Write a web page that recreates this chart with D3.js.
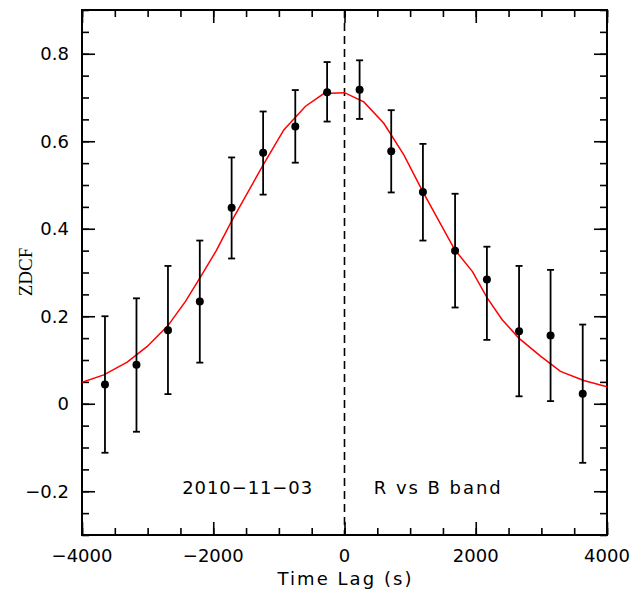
<!DOCTYPE html>
<html>
<head>
<meta charset="utf-8">
<script src="https://cdn.jsdelivr.net/npm/d3@7"></script>
<style>
    body { margin: 0; background: #fff; }
    svg text { font-family: "DejaVu Sans", sans-serif; fill: #000; }
</style>
</head>
<body>
<div id="chart"></div>
<script>
// ZDCF points (lag in s, value, error down, error up)
const lags = [-3650, -3170, -2690, -2205, -1720, -1240, -750, -265,
    230, 712, 1195, 1685, 2170, 2660, 3140, 3630];
const zdcf = [0.044, 0.089, 0.168, 0.234, 0.448, 0.574, 0.634, 0.712,
    0.718, 0.577, 0.484, 0.350, 0.284, 0.166, 0.156, 0.023];
const errLow = [0.156, 0.153, 0.146, 0.140, 0.116, 0.096, 0.083, 0.067,
    0.067, 0.094, 0.111, 0.130, 0.138, 0.149, 0.150, 0.158];
const errHigh = [0.156, 0.152, 0.147, 0.139, 0.115, 0.094, 0.083, 0.069,
    0.067, 0.094, 0.110, 0.130, 0.075, 0.149, 0.150, 0.158];

// red model curve
const fitLag = [-4000, -3668, -3311, -3006, -2693, -2423, -2205, -1954, -1722,
    -1239, -925, -594, -315, 0, 294, 599, 904, 1193, 1681, 1950, 2174, 2403,
    2656, 2987, 3291, 3646, 4000];
const fitVal = [0.049, 0.066, 0.095, 0.131, 0.178, 0.234, 0.287, 0.350, 0.417,
    0.546, 0.626, 0.680, 0.709, 0.711, 0.690, 0.641, 0.569, 0.485, 0.352, 0.302,
    0.242, 0.192, 0.150, 0.109, 0.074, 0.053, 0.039];

const xTicks = [-4000, -2000, 0, 2000, 4000];
const yTicks = [-0.2, 0, 0.2, 0.4, 0.6, 0.8];

let margin = { top: 10, right: 35, bottom: 60, left: 82 };
let width = 642 - margin.left - margin.right;
let height = 595 - margin.top - margin.bottom;

const svg = d3.select("#chart")
    .append("svg")
    .attr("width", 642)
    .attr("height", 595)
    .append("g")
    .attr("transform", `translate(${margin.left},${margin.top})`);

const x = d3.scaleLinear().domain([-4000, 4000]).range([0, width]);
const y = d3.scaleLinear().domain([-0.3, 0.9]).range([height, 0]);

const fmt = (d) => (d < 0 ? "\u2212" + Math.abs(d) : String(d));

// minor + major ticks on all four sides
const xMinor = d3.range(-4000, 4001, 500);
const yMinor = d3.range(-0.3, 0.9001, 0.05);

function addAxis(axisFn, scale, values, size, transform) {
    const g = svg.append("g")
        .attr("transform", transform)
        .call(axisFn(scale).tickValues(values).tickSize(size).tickFormat(""));
    g.select(".domain").remove();
    g.selectAll("line").attr("stroke", "#000").attr("stroke-width", 1.6);
}

addAxis(d3.axisBottom, x, xMinor, -7, `translate(0,${height})`);
addAxis(d3.axisBottom, x, xTicks, -13, `translate(0,${height})`);
addAxis(d3.axisTop, x, xMinor, -7, "translate(0,0)");
addAxis(d3.axisTop, x, xTicks, -13, "translate(0,0)");
addAxis(d3.axisLeft, y, yMinor, -7, "translate(0,0)");
addAxis(d3.axisLeft, y, yTicks, -13, "translate(0,0)");
addAxis(d3.axisRight, y, yMinor, -7, `translate(${width},0)`);
addAxis(d3.axisRight, y, yTicks, -13, `translate(${width},0)`);

// tick labels
svg.append("g")
    .selectAll("text")
    .data(xTicks)
    .join("text")
    .attr("x", (d) => x(d))
    .attr("y", height + 27)
    .attr("text-anchor", "middle")
    .attr("font-size", "18px")
    .text(fmt);

svg.append("g")
    .selectAll("text")
    .data(yTicks)
    .join("text")
    .attr("x", -13)
    .attr("y", (d) => y(d) + 6.5)
    .attr("text-anchor", "end")
    .attr("font-size", "18px")
    .text((d) => fmt(+d.toFixed(1)));

// frame
svg.append("rect")
    .attr("width", width)
    .attr("height", height)
    .attr("fill", "none")
    .attr("stroke", "#000")
    .attr("stroke-width", 2);

const plot = svg.append("g");
svg.append("clipPath").attr("id", "clip")
    .append("rect").attr("width", width).attr("height", height);

// dashed zero-lag line
plot.append("line")
    .attr("x1", x(0)).attr("x2", x(0))
    .attr("y1", 0).attr("y2", height)
    .attr("stroke", "#000")
    .attr("stroke-width", 1.6)
    .attr("stroke-dasharray", "8,5");

// red curve
plot.append("path")
    .datum(fitLag.map((l, i) => [l, fitVal[i]]))
    .attr("clip-path", "url(#clip)")
    .attr("fill", "none")
    .attr("stroke", "#ff0000")
    .attr("stroke-width", 1.5)
    .attr("d", d3.line().x((d) => x(d[0])).y((d) => y(d[1])));

// error bars
const pts = lags.map((l, i) => ({ lag: l, v: zdcf[i], lo: zdcf[i] - errLow[i], hi: zdcf[i] + errHigh[i] }));
const bars = plot.append("g").attr("stroke", "#000").attr("stroke-width", 1.8);
bars.selectAll(".v").data(pts).join("line")
    .attr("x1", (d) => x(d.lag)).attr("x2", (d) => x(d.lag))
    .attr("y1", (d) => y(d.lo)).attr("y2", (d) => y(d.hi));
bars.selectAll(".t").data(pts).join("line")
    .attr("x1", (d) => x(d.lag) - 3.5).attr("x2", (d) => x(d.lag) + 3.5)
    .attr("y1", (d) => y(d.hi)).attr("y2", (d) => y(d.hi));
bars.selectAll(".b").data(pts).join("line")
    .attr("x1", (d) => x(d.lag) - 3.5).attr("x2", (d) => x(d.lag) + 3.5)
    .attr("y1", (d) => y(d.lo)).attr("y2", (d) => y(d.lo));

plot.append("g").selectAll("circle").data(pts).join("circle")
    .attr("cx", (d) => x(d.lag))
    .attr("cy", (d) => y(d.v))
    .attr("r", 4)
    .attr("fill", "#000");

// annotations
svg.append("text")
    .attr("x", x(-1483))
    .attr("y", 484)
    .attr("text-anchor", "middle")
    .attr("font-size", "18px")
    .attr("textLength", 130)
    .text("2010\u221211\u221203");

svg.append("text")
    .attr("x", x(1413))
    .attr("y", 484)
    .attr("text-anchor", "middle")
    .attr("font-size", "18px")
    .attr("textLength", 127)
    .text("R vs B band");

svg.append("text")
    .attr("x", width / 2)
    .attr("y", height + 50)
    .attr("text-anchor", "middle")
    .attr("font-size", "18px")
    .attr("textLength", 134)
    .text("Time Lag (s)");

svg.append("text")
    .attr("transform", `translate(${32 - margin.left},${272 - margin.top}) rotate(-90)`)
    .attr("text-anchor", "middle")
    .attr("font-size", "19px")
    .style("font-family", "'Liberation Serif', serif")
    .text("ZDCF");
</script>
</body>
</html>
